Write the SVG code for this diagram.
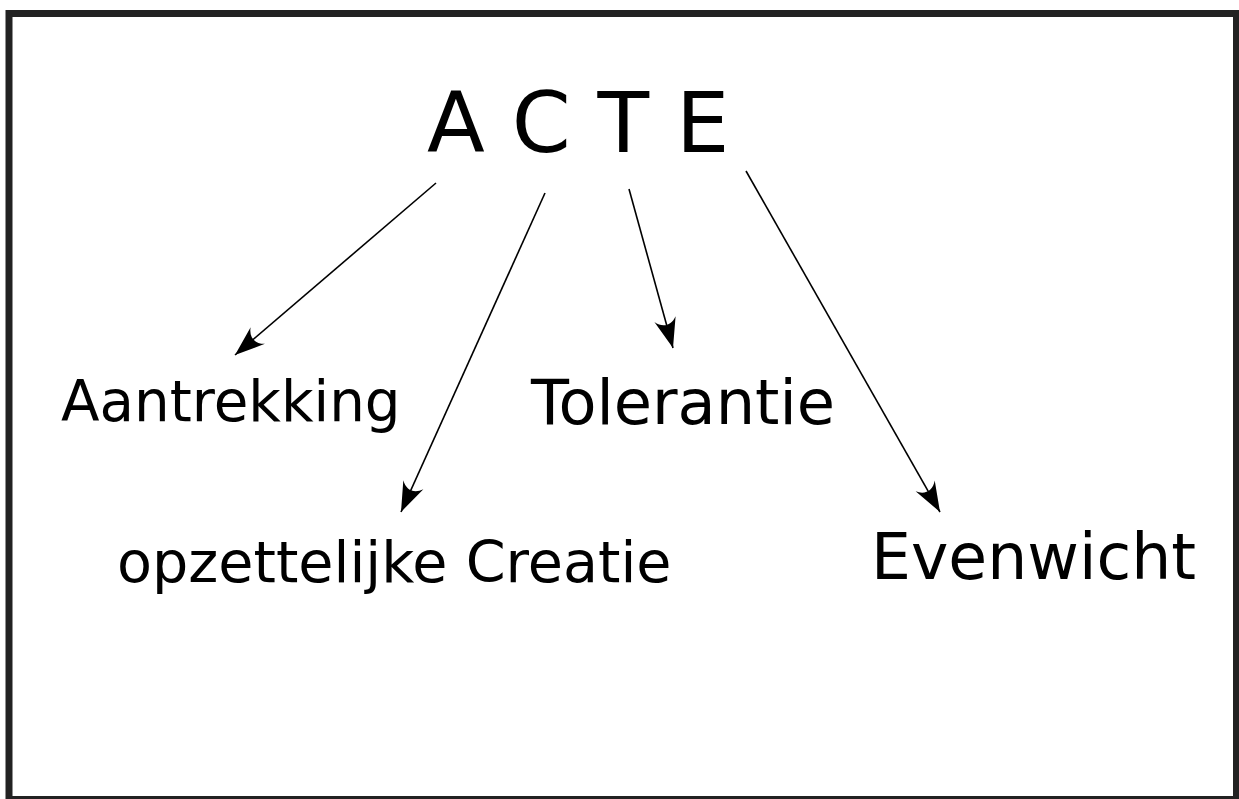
<svg xmlns="http://www.w3.org/2000/svg" width="1239" height="799" viewBox="0 0 1239 799">
  <style>
    .lbl { font-family: "DejaVu Sans", "Liberation Sans", sans-serif; fill: #000; }
    .conn { stroke: #000; stroke-width: 1.6; fill: none; marker-end: url(#arr); }
  </style>
  <defs>
    <marker id="arr" markerUnits="userSpaceOnUse" markerWidth="36" markerHeight="28" viewBox="-32 -14 36 28" refX="0" refY="0" orient="auto">
      <path d="M0,0 L-30,-11 C-22,-4.5 -22,4.5 -30,11 Z" fill="#000"/>
    </marker>
  </defs>
  <rect x="0" y="0" width="1239" height="799" fill="#fff"/>
  <rect id="frame" x="9" y="13.5" width="1227.5" height="786" fill="none" stroke="#222" stroke-width="7"/>
  <g id="acte"><text class="lbl" x="427" y="152" font-size="84.5">A C T E</text></g>
  <g id="aantrekking"><text class="lbl" x="61" y="421" font-size="56.3">Aantrekking</text></g>
  <g id="tolerantie"><text class="lbl" x="531" y="424" font-size="62.2">Tolerantie</text></g>
  <g id="creatie"><text class="lbl" x="117" y="582" font-size="57.2">opzettelijke Creatie</text></g>
  <g id="evenwicht"><text class="lbl" x="871" y="579" font-size="63.2">Evenwicht</text></g>
  <g id="connectors">
    <line class="conn" x1="436" y1="183" x2="235" y2="355"/>
    <line class="conn" x1="545" y1="193" x2="401" y2="512"/>
    <line class="conn" x1="629" y1="189" x2="673" y2="348"/>
    <line class="conn" x1="746" y1="171" x2="940" y2="512"/>
  </g>
</svg>
